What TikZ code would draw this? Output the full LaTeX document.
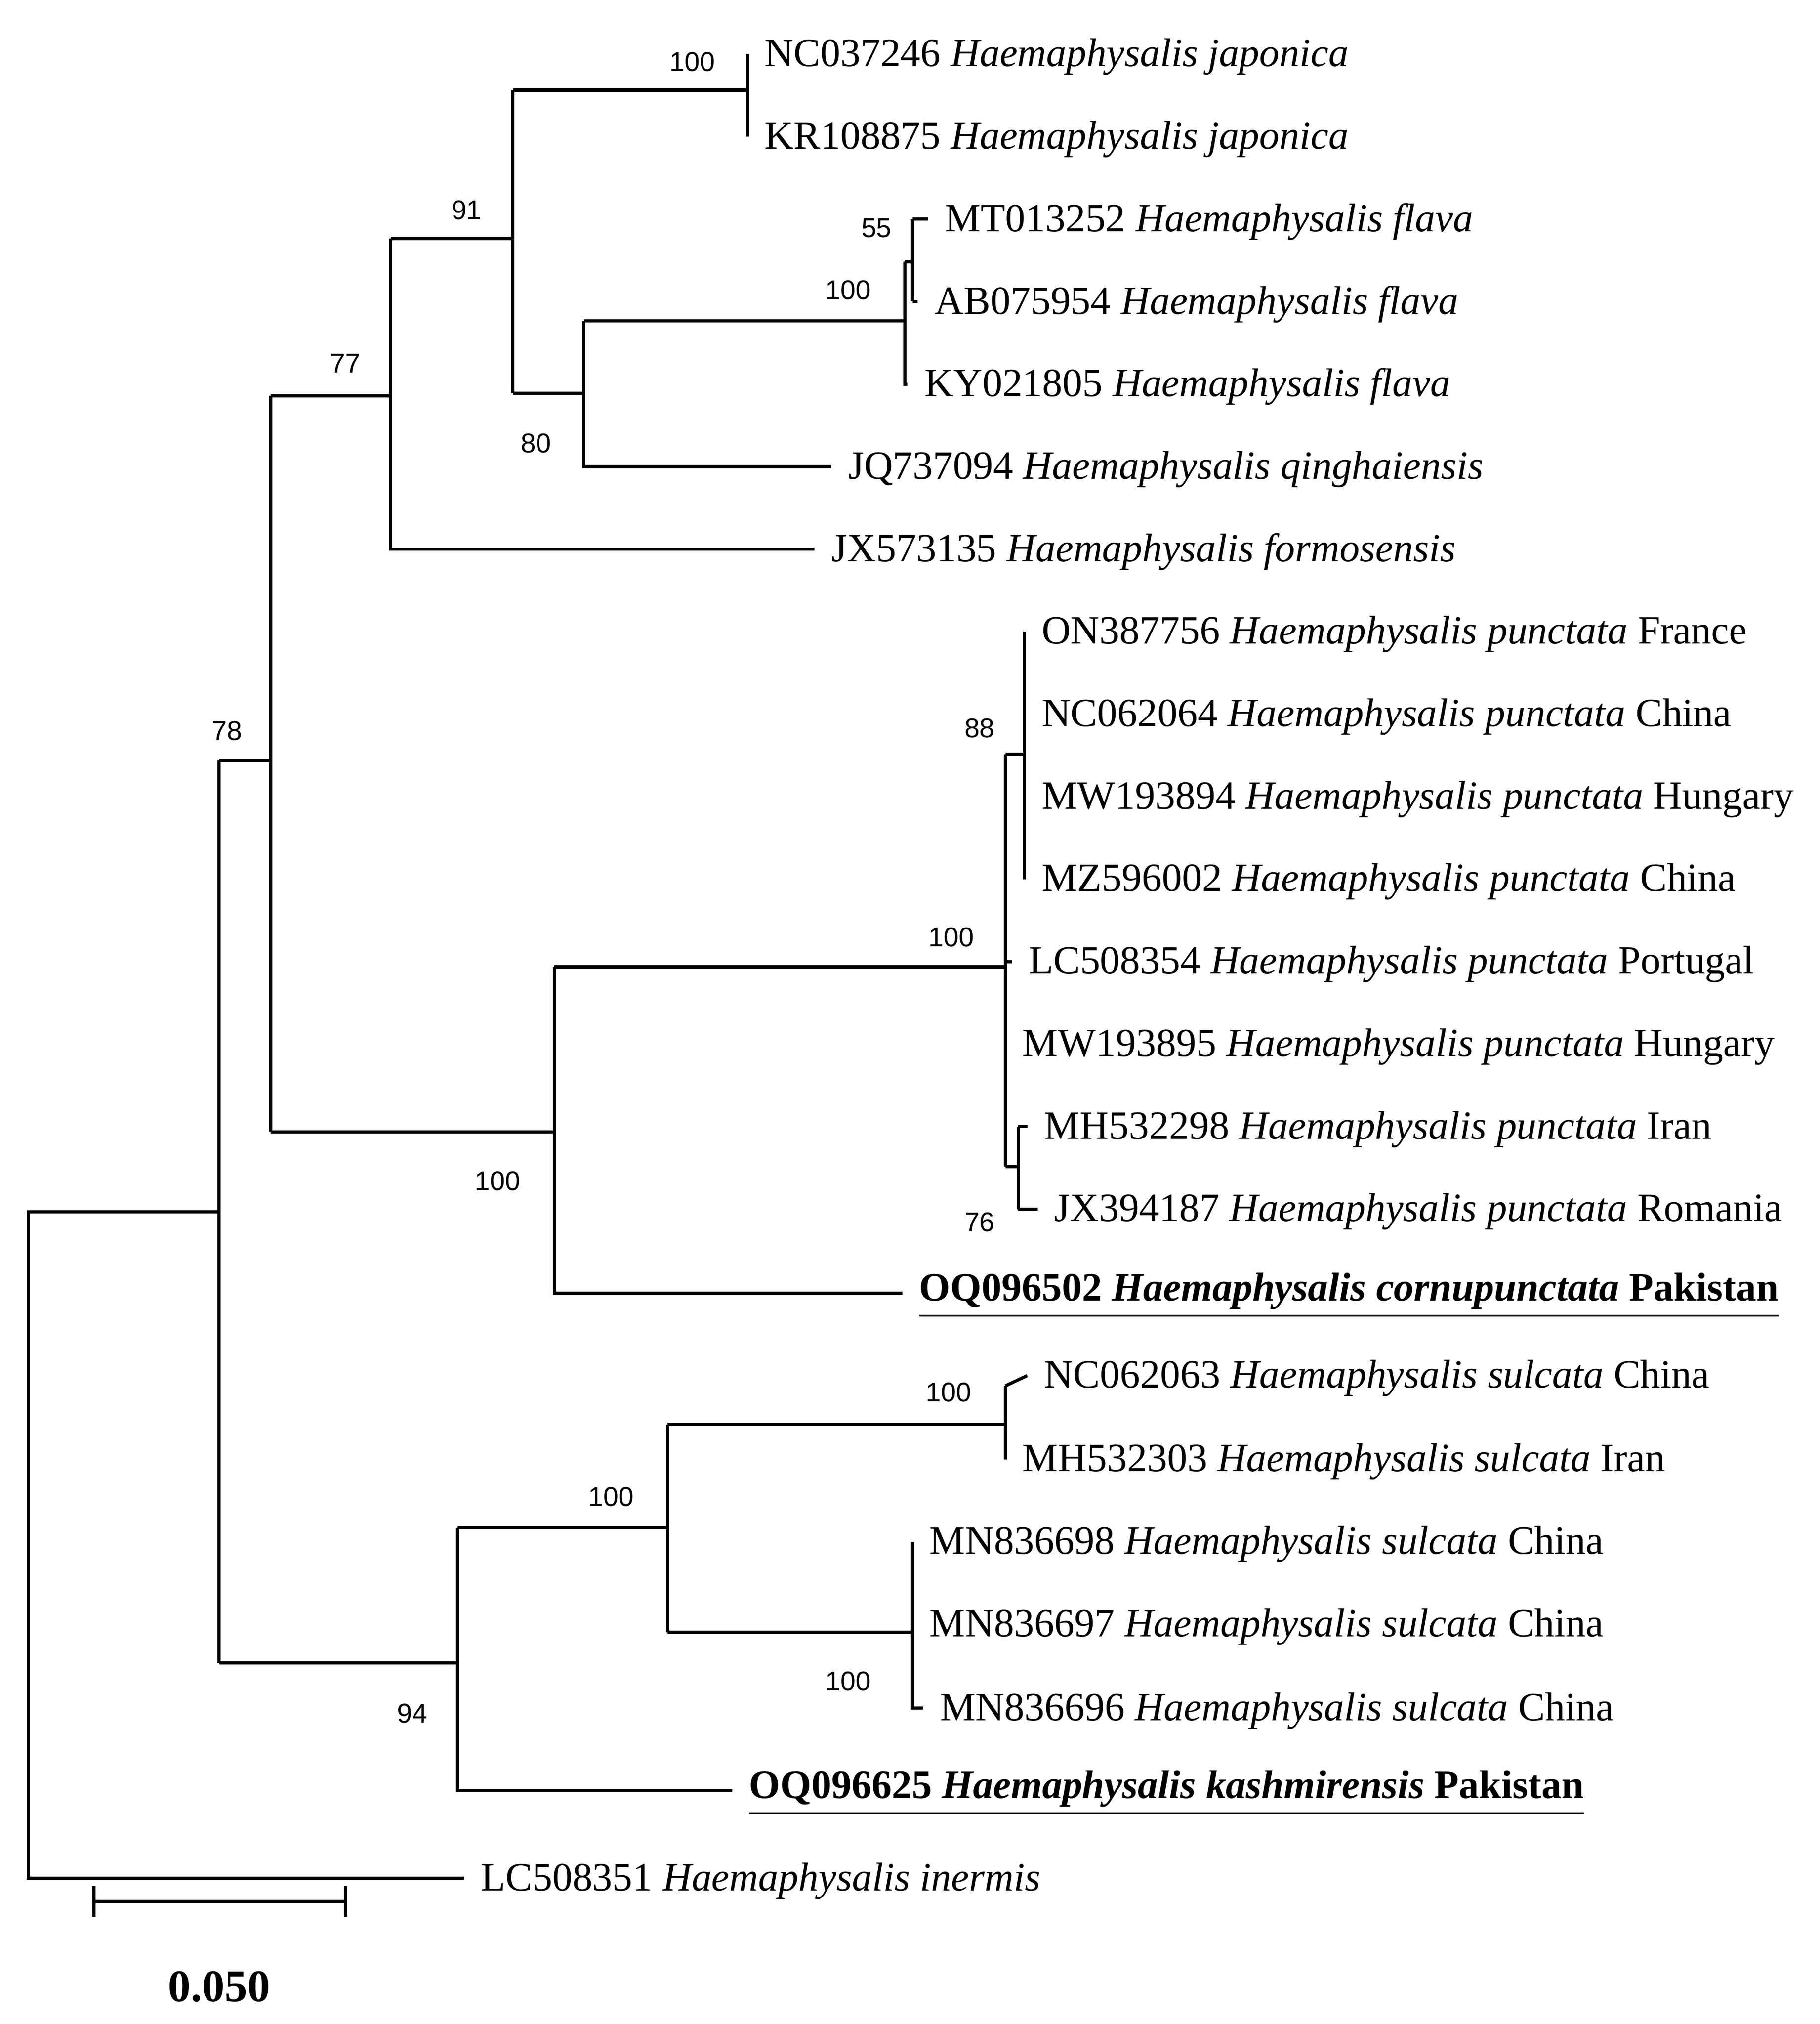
\documentclass[tikz,border=0pt]{standalone}
\usepackage{fontspec}
\setmainfont{Liberation Serif}
\newfontfamily\bsfont{Liberation Sans}
\begin{document}
\begin{tikzpicture}[x=0.01cm,y=-0.01cm,line width=0.7pt,
  leaf/.style={anchor=west,inner sep=0pt,font=\fontsize{8.85}{10.5}\selectfont},
  bs/.style={inner sep=0pt,font=\bsfont\fontsize{6}{7}\selectfont}]
\useasboundingbox[fill=white] (0,0) rectangle (1412,1570);
\newcommand{\lf}[4]{\coordinate (#1) at (#2,#3); \node[leaf] (#1t) at (#2+12,#3+2) {#4};}
\lf{l1}{580}{42}{NC037246 \textit{Haemaphysalis japonica}}
\lf{l2}{580}{106}{KR108875 \textit{Haemaphysalis japonica}}
\lf{l3}{720}{170}{MT013252 \textit{Haemaphysalis flava}}
\lf{l4}{712}{234}{AB075954 \textit{Haemaphysalis flava}}
\lf{l5}{704}{298}{KY021805 \textit{Haemaphysalis flava}}
\lf{l6}{645}{362}{JQ737094 \textit{Haemaphysalis qinghaiensis}}
\lf{l7}{632}{426}{JX573135 \textit{Haemaphysalis formosensis}}
\lf{l8}{795}{490}{ON387756 \textit{Haemaphysalis punctata} France}
\lf{l9}{795}{554}{NC062064 \textit{Haemaphysalis punctata} China}
\lf{l10}{795}{618}{MW193894 \textit{Haemaphysalis punctata} Hungary}
\lf{l11}{795}{682}{MZ596002 \textit{Haemaphysalis punctata} China}
\lf{l12}{785}{746}{LC508354 \textit{Haemaphysalis punctata} Portugal}
\lf{l13}{780}{810}{MW193895 \textit{Haemaphysalis punctata} Hungary}
\lf{l14}{797}{874}{MH532298 \textit{Haemaphysalis punctata} Iran}
\lf{l15}{805}{938}{JX394187 \textit{Haemaphysalis punctata} Romania}
\lf{l16}{700}{1003}{\underline{\textbf{OQ096502 \textit{Haemaphysalis cornupunctata} Pakistan}}}
\lf{l17}{797}{1067}{NC062063 \textit{Haemaphysalis sulcata} China}
\lf{l18}{780}{1132}{MH532303 \textit{Haemaphysalis sulcata} Iran}
\lf{l19}{708}{1196}{MN836698 \textit{Haemaphysalis sulcata} China}
\lf{l20}{708}{1260}{MN836697 \textit{Haemaphysalis sulcata} China}
\lf{l21}{716}{1325}{MN836696 \textit{Haemaphysalis sulcata} China}
\lf{l22}{568}{1389}{\underline{\textbf{OQ096625 \textit{Haemaphysalis kashmirensis} Pakistan}}}
\lf{l23}{360}{1457}{LC508351 \textit{Haemaphysalis inermis}}
% branches
\draw (l23) -| (22,940) -- (170,940);
\draw (170,590) -- (170,1290);
\draw (170,590) -- (210,590); \draw (170,1290) -- (355,1290);
\draw (210,307) -- (210,878);
\draw (210,307) -- (303,307); \draw (210,878) -- (430,878);
\draw (303,185) -- (303,426) -- (l7);
\draw (303,185) -- (398,185);
\draw (398,70) -- (398,305);
\draw (398,70) -- (580,70); \draw (398,305) -- (453,305);
\draw (l1) -- (l2);
\draw (453,249) -- (453,362) -- (l6);
\draw (453,249) -- (702,249);
\draw (702,203) -- (702,298) -- (l5);
\draw (702,203) -- (708,203);
\draw (708,170) -- (708,234);
\draw (708,170) -- (l3); \draw (708,234) -- (l4);
\draw (430,750) -- (430,1003) -- (l16);
\draw (430,750) -- (780,750);
\draw (780,585) -- (780,905);
\draw (780,585) -- (795,585);
\draw (l8) -- (l11);
\draw (780,746) -- (l12);
\draw (780,810) -- (l13);
\draw (780,905) -- (790,905);
\draw (790,874) -- (790,938);
\draw (790,874) -- (l14); \draw (790,938) -- (l15);
\draw (355,1185) -- (355,1389) -- (l22);
\draw (355,1185) -- (518,1185);
\draw (518,1105) -- (518,1266);
\draw (518,1105) -- (780,1105); \draw (518,1266) -- (708,1266);
\draw (780,1075) -- (780,1132) -- (l18);
\draw (780,1075) -- (l17);
\draw (708,1196) -- (708,1325) -- (l21);
\draw (708,1196) -- (l19); \draw (708,1260) -- (l20);
% bootstrap labels
\node[bs] (b1) at (537,48) {100};
\node[bs] (b2) at (680,177) {55};
\node[bs] (b3) at (658,225) {100};
\node[bs] (b4) at (416,344) {80};
\node[bs] (b5) at (362,163) {91};
\node[bs] (b6) at (268,282) {77};
\node[bs] (b7) at (176,567) {78};
\node[bs] (b8) at (738,727) {100};
\node[bs] (b9) at (760,565) {88};
\node[bs] (b10) at (760,948) {76};
\node[bs] (b11) at (386,916) {100};
\node[bs] (b12) at (736,1080) {100};
\node[bs] (b13) at (474,1161) {100};
\node[bs] (b14) at (658,1304) {100};
\node[bs] (b15) at (320,1329) {94};
% scale bar
\coordinate (s1) at (73,1475); \coordinate (s2) at (268,1475);
\draw (s1) -- (s2);
\draw (73,1463) -- (73,1487); \draw (268,1463) -- (268,1487);
\node[inner sep=0pt,font=\bfseries\fontsize{10}{12}\selectfont] (sc) at (170,1541) {0.050};
\end{tikzpicture}
\end{document}
